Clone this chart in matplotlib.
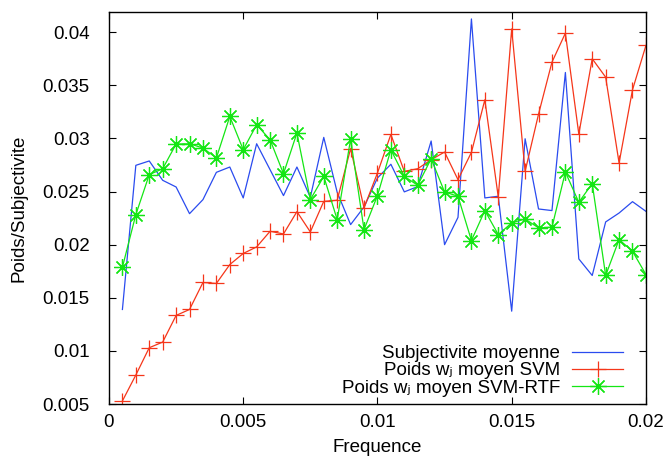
import numpy as np
import matplotlib
matplotlib.use('Agg')
import matplotlib.pyplot as plt
from matplotlib.ticker import FormatStrFormatter

plt.rcParams['font.family'] = ['Liberation Sans', 'DejaVu Sans']
plt.rcParams['font.size'] = 13.5

freq = np.arange(1, 41) * 0.0005

subjectivite = [0.0139, 0.02747, 0.02788, 0.02606, 0.02543, 0.02292, 0.02424, 0.02681,
                0.02731, 0.0244, 0.0295, 0.02706, 0.02462, 0.02731, 0.02446, 0.0301,
                0.02493, 0.02189, 0.02355, 0.02628, 0.02757, 0.02497, 0.02547, 0.02976,
                0.0200, 0.02257, 0.04125, 0.0244, 0.02456, 0.01374, 0.02997, 0.02336,
                0.02321, 0.03621, 0.01866, 0.0171, 0.02214, 0.02298, 0.02405, 0.02314]

poids_svm = [0.00529, 0.00773, 0.0103, 0.01083, 0.01334, 0.0139, 0.01644, 0.01635,
             0.01813, 0.01917, 0.01979, 0.02126, 0.02101, 0.02311, 0.0212, 0.02408,
             0.02418, 0.02904, 0.02346, 0.02675, 0.03038, 0.0269, 0.02715, 0.028,
             0.02872, 0.02612, 0.02869, 0.03364, 0.02449, 0.04031, 0.0269, 0.03229,
             0.03718, 0.03991, 0.03041, 0.0375, 0.03577, 0.02769, 0.03458, 0.03875]

poids_rtf = [0.01788, 0.02283, 0.02659, 0.02715, 0.02947, 0.0295, 0.0291, 0.02816,
             0.03207, 0.02894, 0.03129, 0.02988, 0.02668, 0.03051, 0.02424, 0.02643,
             0.02236, 0.02994, 0.02142, 0.02462, 0.02894, 0.02643, 0.02559, 0.02809,
             0.02496, 0.02456, 0.02039, 0.02321, 0.02095, 0.02205, 0.02242, 0.02158,
             0.02164, 0.02684, 0.02399, 0.02575, 0.0171, 0.02048, 0.01938, 0.01719]

labels = ['Subjectivite moyenne', 'Poids w\u2c7c moyen SVM', 'Poids w\u2c7c moyen SVM-RTF']

fig = plt.figure(figsize=(6.67, 4.63), dpi=100)
ax = fig.add_axes([0.1634, 0.1274, 0.805, 0.8466])

ax.plot(freq, subjectivite, color='#2a4bef', lw=0.9, label=labels[0])
ax.plot(freq, poids_svm, color='#f5361a', lw=0.9, marker='+', ms=12, mew=0.9,
        label=labels[1])
ax.plot(freq, poids_rtf, color='#14e614', lw=0.9, marker=(8, 2, 0), ms=12, mew=0.9,
        label=labels[2])

ax.set_xlim(0, 0.02)
ax.set_ylim(0.005, 0.0419)
ax.set_xticks([0, 0.005, 0.01, 0.015, 0.02])
ax.set_yticks([0.005, 0.01, 0.015, 0.02, 0.025, 0.03, 0.035, 0.04])
ax.xaxis.set_major_formatter(FormatStrFormatter('%g'))
ax.yaxis.set_major_formatter(FormatStrFormatter('%g'))
ax.tick_params(direction='in', top=True, right=True, length=5, width=0.8)
ax.tick_params(axis='x', pad=7)
ax.tick_params(axis='y', pad=14)
for s in ax.spines.values():
    s.set_linewidth(1.0)

ax.set_xlabel('Frequence', labelpad=6)
ax.set_ylabel('Poids/Subjectivite', labelpad=11)

ax.legend(loc='lower right', frameon=False, markerfirst=False, handlelength=2.7,
          labelspacing=0.0, borderaxespad=0.0, borderpad=0.0, handletextpad=0.65,
          bbox_to_anchor=(0.957, 0.019))

fig.savefig('out.png', dpi=100)
